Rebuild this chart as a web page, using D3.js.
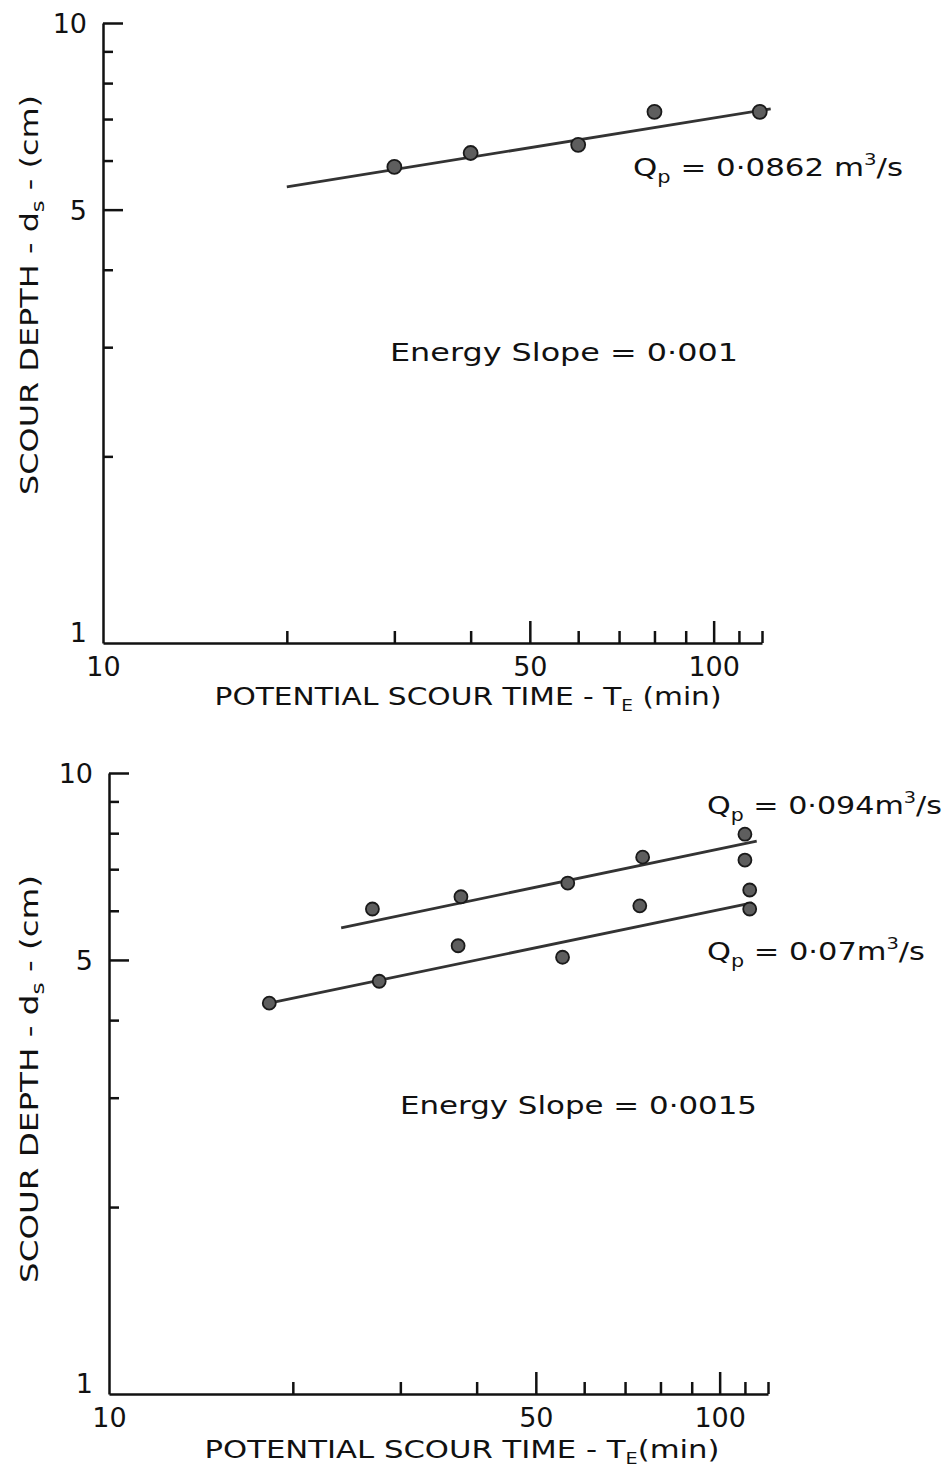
<!DOCTYPE html>
<html>
<head>
<meta charset="utf-8">
<script src="https://cdn.jsdelivr.net/npm/d3@7"></script>
<style>
  body { margin: 0; background: #fff; }
  text { font-family: "DejaVu Sans", sans-serif; fill: #111; }
</style>
</head>
<body>
<svg id="chart"></svg>
<script>
// tick values shared by both panels
const xMajorTicks = [10, 50, 100];
const xMinorTicks = [20, 30, 40, 60, 70, 80, 90, 110, 120];
const yMajorTicks = [1, 5, 10];
const yMinorTicks = [2, 3, 4, 6, 7, 8, 9];

// top panel, energy slope 0.001, Qp = 0.0862
const topTime = [30, 40, 60, 80, 119];
const topDepth = [5.86, 6.17, 6.36, 7.19, 7.19];
const topFitTime = [20, 124];
const topFitDepth = [5.44, 7.27];

// bottom panel, energy slope 0.0015, Qp = 0.094
const hiTime = [27, 37.7, 56.4, 74.8, 110, 110];
const hiDepth = [6.04, 6.32, 6.65, 7.32, 7.97, 7.24];
const hiFitTime = [24, 115];
const hiFitDepth = [5.63, 7.77];

// bottom panel, Qp = 0.07
const loTime = [18.3, 27.7, 37.3, 55.3, 74, 112, 112];
const loDepth = [4.26, 4.62, 5.27, 5.05, 6.11, 6.48, 6.04];
const loFitTime = [18.3, 113];
const loFitDepth = [4.26, 6.18];

const svg = d3.select("#chart")
  .attr("width", 944)
  .attr("height", 1477);

svg.append("rect").attr("width", 944).attr("height", 1477).attr("fill", "#fff");

function drawPanel(p) {
  const x = d3.scaleLog().domain([10, 120]).range([0, p.width]);
  const y = d3.scaleLog().domain([1, 10]).range([p.height, 0]);

  const g = svg.append("g")
    .attr("transform", `translate(${p.left},${p.top})`);

  // minor ticks first, no labels
  g.append("g")
    .call(d3.axisLeft(y).tickValues(yMinorTicks).tickSize(-10).tickSizeOuter(0).tickFormat(""))
    .call(a => a.select(".domain").remove());
  g.append("g")
    .attr("transform", `translate(0,${p.height})`)
    .call(d3.axisBottom(x).tickValues(xMinorTicks).tickSize(-12).tickSizeOuter(0).tickFormat(""))
    .call(a => a.select(".domain").remove());

  const yAxis = g.append("g")
    .call(d3.axisLeft(y).tickValues(yMajorTicks).tickSize(-20).tickSizeOuter(0)
      .tickPadding(16).tickFormat(d3.format("d")));
  yAxis.selectAll("text").style("font-size", "27px").attr("dy", "0.35em");
  yAxis.selectAll(".tick").filter(d => d === 1).select("line").remove();
  yAxis.selectAll(".tick").filter(d => d === 1).select("text").attr("dy", "-0.05em");

  const xAxis = g.append("g")
    .attr("transform", `translate(0,${p.height})`)
    .call(d3.axisBottom(x).tickValues(xMajorTicks).tickSize(-22).tickSizeOuter(0)
      .tickPadding(14).tickFormat(d3.format("d")));
  xAxis.selectAll("text").style("font-size", "27px");
  xAxis.selectAll(".tick").filter(d => d === 10).select("line").remove();

  svg.selectAll("path.domain, .tick line")
    .attr("stroke", "#111")
    .attr("stroke-width", 2.5);

  // fitted lines
  const line = d3.line().x(d => x(d[0])).y(d => y(d[1]));
  p.fits.forEach(f => {
    g.append("path")
      .datum(d3.zip(f.t, f.d))
      .attr("d", line)
      .attr("fill", "none")
      .attr("stroke", "#333")
      .attr("stroke-width", 2.8);
  });

  // measured points
  p.series.forEach(s => {
    g.selectAll(null)
      .data(d3.zip(s.t, s.d))
      .enter()
      .append("circle")
      .attr("cx", d => x(d[0]))
      .attr("cy", d => y(d[1]))
      .attr("r", p.r)
      .attr("fill", "#5e5e5e")
      .attr("stroke", "#1a1a1a")
      .attr("stroke-width", 1.8);
  });

  // axis titles
  const xt = svg.append("text")
    .attr("x", p.xTitle[0])
    .attr("y", p.xTitle[1])
    .attr("text-anchor", "middle")
    .attr("textLength", p.xTitle[2])
    .attr("lengthAdjust", "spacingAndGlyphs")
    .style("font-size", "24px");
  xt.append("tspan").text("POTENTIAL  SCOUR  TIME - T");
  xt.append("tspan").attr("dy", 6).style("font-size", "15px").text("E");
  xt.append("tspan").attr("dy", -6).text(p.xGap + "(min)");

  const yt = svg.append("text")
    .attr("transform", `translate(${p.yTitle[0]},${p.yTitle[1]}) rotate(-90)`)
    .attr("text-anchor", "middle")
    .attr("textLength", p.yTitle[2])
    .attr("lengthAdjust", "spacingAndGlyphs")
    .style("font-size", "24px");
  yt.append("tspan").text("SCOUR DEPTH - d");
  yt.append("tspan").attr("dy", 6).style("font-size", "17px").text("s");
  yt.append("tspan").attr("dy", -6).text(" - (cm)");

  // annotations
  p.notes.forEach(n => {
    const t = svg.append("text")
      .attr("x", n.x)
      .attr("y", n.y)
      .attr("textLength", n.len)
      .attr("lengthAdjust", "spacingAndGlyphs")
      .style("font-size", "25px");
    t.append("tspan").text("Q");
    t.append("tspan").attr("dy", 7).style("font-size", "17px").text("p");
    t.append("tspan").attr("dy", -7).text(` = ${n.value}m`);
    t.append("tspan").attr("dy", -11).style("font-size", "16px").text("3");
    t.append("tspan").attr("dy", 11).text("/s");
  });
  svg.append("text")
    .attr("x", p.slope.x)
    .attr("y", p.slope.y)
    .attr("textLength", p.slope.len)
    .attr("lengthAdjust", "spacingAndGlyphs")
    .style("font-size", "25px")
    .text(`Energy  Slope  =  ${p.slope.value}`);
}

drawPanel({
  left: 103, top: 23, width: 659, height: 620, r: 7,
  series: [{ t: topTime, d: topDepth }],
  fits: [{ t: topFitTime, d: topFitDepth }],
  xTitle: [468, 705, 507], xGap: " ",
  yTitle: [38, 295, 400],
  notes: [{ x: 633, y: 176, len: 270, value: " 0·0862 " }],
  slope: { x: 390, y: 361, len: 348, value: "0·001" }
});

drawPanel({
  left: 109, top: 773, width: 659, height: 621, r: 6.5,
  series: [{ t: hiTime, d: hiDepth }, { t: loTime, d: loDepth }],
  fits: [{ t: hiFitTime, d: hiFitDepth }, { t: loFitTime, d: loFitDepth }],
  xTitle: [462, 1458, 515], xGap: "",
  yTitle: [38, 1079, 408],
  notes: [
    { x: 707, y: 814, len: 235, value: "0·094" },
    { x: 707, y: 960, len: 218, value: "0·07" }
  ],
  slope: { x: 400, y: 1114, len: 357, value: "0·0015" }
});
</script>
</body>
</html>
